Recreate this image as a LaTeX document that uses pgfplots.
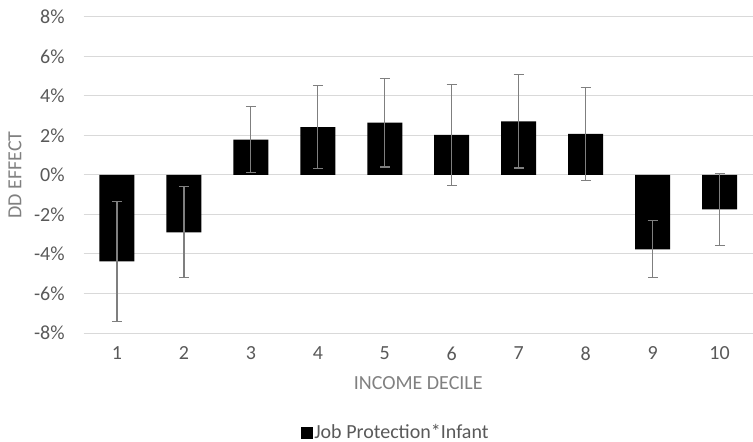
\documentclass[border=0pt]{standalone}
\usepackage{pgfplots}
\pgfplotsset{compat=1.18}
\usepackage{fontspec}
\setmainfont{Carlito}
\definecolor{txt}{HTML}{595959}
\definecolor{ttl}{HTML}{808080}
\definecolor{grd}{HTML}{D9D9D9}
\definecolor{err}{HTML}{7F7F7F}
\pgfplotstableread{
x y e
1 -4.37 3.03
2 -2.90 2.31
3 1.79 1.66
4 2.42 2.10
5 2.65 2.25
6 2.03 2.55
7 2.72 2.37
8 2.08 2.36
9 -3.76 1.45
10 -1.74 1.83
}\datatable
\begin{document}
\fontsize{20bp}{24bp}\selectfont
\begin{tikzpicture}
\useasboundingbox (0,0) rectangle (753bp,442bp);
\begin{axis}[
  at={(83.5bp,109bp)}, anchor=south west,
  scale only axis, width=669.5bp, height=316bp,
  xmin=0.5, xmax=10.5, ymin=-8, ymax=8,
  ybar, bar width=35bp, bar shift=0pt,
  xtick={1,...,10},
  ytick={-8,-6,...,8},
  yticklabels={-8\%,-6\%,-4\%,-2\%,0\%,2\%,4\%,6\%,8\%},
  /pgf/number format/assume math mode=true,
  ticklabel style={font=\fontsize{20bp}{24bp}\selectfont, text=txt},
  major tick length=0pt,
  axis line style={draw=none},
  ymajorgrids, major grid style={color=grd, line width=1bp},
  xticklabel style={yshift=-7bp},
  yticklabel style={xshift=-12bp},
  xlabel={INCOME DECILE},
  ylabel={DD EFFECT},
  label style={font=\fontsize{20bp}{24bp}\selectfont, text=ttl},
  xlabel style={at={(0.5,-50bp)}, anchor=center},
  ylabel style={at={(-68.5bp,0.5)}, anchor=center},
  legend style={at={(0.4667,-0.316)}, anchor=center, draw=none, fill=none,
    font=\fontsize{20bp}{24bp}\selectfont, text=txt,
    /tikz/every even column/.append style={column sep=0pt},
    inner sep=0pt},
  legend image code/.code={\fill[black] (0bp,-6bp) rectangle (12bp,6bp);},
  legend cell align=left,
  clip=false,
]
\addplot[fill=black, draw=none,
  error bars/.cd, y dir=both, y explicit,
  error bar style={color=err, line width=1.2bp},
  error mark options={rotate=90, mark size=5bp, color=err, line width=1.2bp}]
  table[x=x, y=y, y error=e] {\datatable};
\addlegendentry{\hspace{-1bp}Job Protection*Infant}
\end{axis}
\end{tikzpicture}
\end{document}
